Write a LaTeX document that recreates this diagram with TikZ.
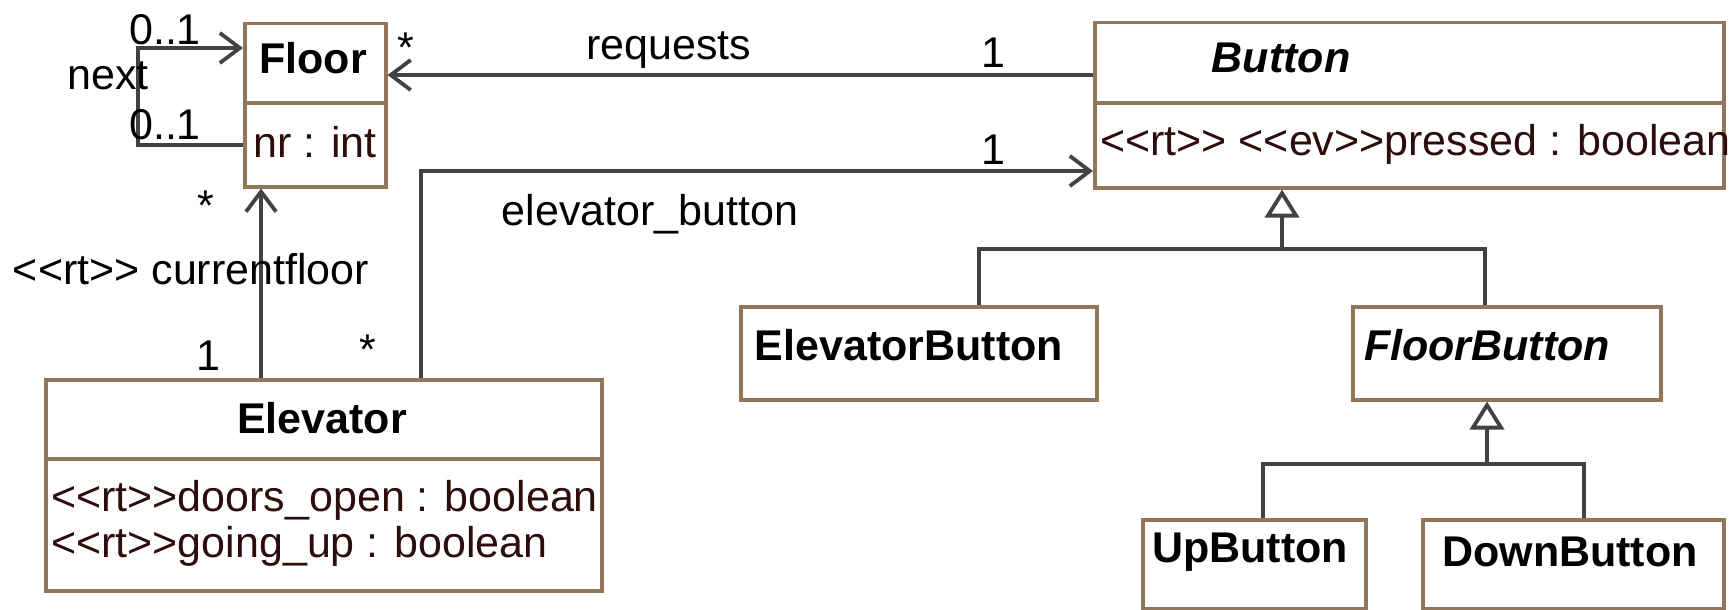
\documentclass[tikz,border=0pt]{standalone}
\usepackage{fontspec}
\setmainfont{Liberation Sans}[Ligatures=TeXOff]
\usetikzlibrary{arrows.meta}
\definecolor{boxline}{RGB}{145,118,92}
\definecolor{wire}{RGB}{66,66,66}
\definecolor{attr}{RGB}{45,12,12}
\begin{document}
\begin{tikzpicture}[x=1pt,y=-1pt,
  font=\fontsize{43}{46}\selectfont,
  classbox/.style={draw=boxline, line width=3.5pt, fill=white, anchor=north west, inner sep=0pt},
  divider/.style={draw=boxline, line width=3.5pt},
  wire/.style={draw=wire, line width=3.8pt},
  nav/.style={wire, -{Straight Barb[length=20pt,width=30pt,line width=3.8pt]}},
  gen/.style={wire, -{Triangle[open,length=28pt,width=34pt,line width=3.8pt]}},
  lbl/.style={inner sep=0pt, text=black},
  title/.style={inner sep=0pt, text=black, font=\fontsize{43}{46}\selectfont\bfseries},
  atitle/.style={inner sep=0pt, text=black, font=\fontsize{43}{46}\selectfont\bfseries\itshape},
  attrtext/.style={inner sep=0pt, anchor=west, text=attr},
]
\useasboundingbox (0,0) rectangle (1734,610);

% class boxes
\node[classbox, minimum width=141pt, minimum height=163pt] (floor) at (243,22) {};
\node[classbox, minimum width=556pt, minimum height=211pt] (elevator) at (44,378) {};
\node[classbox, minimum width=629pt, minimum height=165pt] (button) at (1093,21) {};
\node[classbox, minimum width=356pt, minimum height=93pt] (elevbtn) at (739,305) {};
\node[classbox, minimum width=308pt, minimum height=93pt] (floorbtn) at (1351,305) {};
\node[classbox, minimum width=223pt, minimum height=89pt] (upbtn) at (1141,518) {};
\node[classbox, minimum width=301pt, minimum height=89pt] (downbtn) at (1421,518) {};

% compartment dividers
\draw[divider] (243,103) -- (384,103);
\draw[divider] (44,459) -- (600,459);
\draw[divider] (1093,103) -- (1722,103);

% class names
\node[title] (floorname) at (313,58) {Floor};
\node[title] (elevname) at (322,418) {Elevator};
\node[atitle] (buttonname) at (1281,58) {Button};
\node[title] (elevbtnname) at (909,345) {ElevatorButton};
\node[atitle] (floorbtnname) at (1487,345) {FloorButton};
\node[title] (upbtnname) at (1250,552) {UpButton};
\node[title] (downbtnname) at (1570,552) {DownButton};

% attributes
\node[attrtext] (nr) at (253,142) {nr : int};
\node[attrtext] (doors) at (51,500) {<<rt>>doors\_open : boolean};
\node[attrtext] (goingup) at (51,546) {<<rt>>going\_up : boolean};
\node[attrtext] (pressed) at (1100,144) {<<rt>> <<ev>>pressed : boolean};

% association: next (self loop on Floor)
\coordinate (loopA) at (138,145);
\coordinate (loopB) at (138,48);
\draw[nav] (floor.west |- loopA) -- (loopA) -- (loopB) -- (floor.west |- loopB);
\node[lbl] (nexttop) at (165,30) {0..1};
\node[lbl] (nextname) at (108,76) {next};
\node[lbl] (nextbot) at (165,125) {0..1};

% association: requests
\coordinate (reqY) at (0,75);
\draw[nav] (button.west |- reqY) -- (floor.east |- reqY);
\node[lbl] (reqstar) at (406,48) {*};
\node[lbl] (reqname) at (669,50) {requests};
\node[lbl] (reqone) at (993,53) {1};

% association: elevator_button
\coordinate (ebBend) at (421,171);
\draw[nav] (elevator.north -| ebBend) -- (ebBend) -- (button.west |- ebBend);
\node[lbl] (ebone) at (993,150) {1};
\node[lbl] (ebname) at (650,214) {elevator\_button};
\node[lbl] (ebstar) at (368,350) {*};

% association: currentfloor
\coordinate (cfX) at (261,0);
\draw[nav] (elevator.north -| cfX) -- (floor.south -| cfX);
\node[lbl] (cfstar) at (206,206) {*};
\node[lbl] (cfname) at (191,269) {<<rt>> currentfloor};
\node[lbl] (cfone) at (208,356) {1};

% generalisation: Button
\coordinate (gA) at (979,249);
\coordinate (gB) at (1485,249);
\coordinate (gJ) at (1282,249);
\draw[wire] (elevbtn.north -| gA) -- (gA) -- (gB) -- (floorbtn.north -| gB);
\draw[gen] (gJ) -- (button.south -| gJ);

% generalisation: FloorButton
\coordinate (gC) at (1263,464);
\coordinate (gD) at (1584,464);
\coordinate (gK) at (1487,464);
\draw[wire] (upbtn.north -| gC) -- (gC) -- (gD) -- (downbtn.north -| gD);
\draw[gen] (gK) -- (floorbtn.south -| gK);
\end{tikzpicture}
\end{document}
